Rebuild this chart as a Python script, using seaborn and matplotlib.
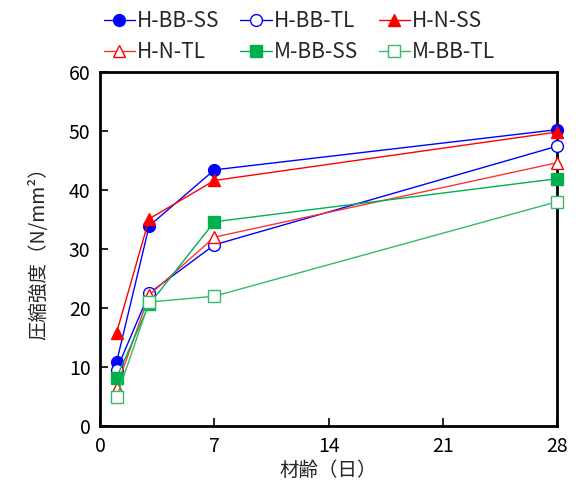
import matplotlib
matplotlib.use("Agg")
import matplotlib.pyplot as plt
import seaborn as sns
import pandas as pd

days = [1, 3, 7, 28]
h_bb_ss = [10.8, 33.9, 43.4, 50.2]
h_bb_tl = [9.5, 22.5, 30.7, 47.4]
h_n_ss = [15.8, 35.1, 41.6, 49.8]
h_n_tl = [6.5, 22.2, 32.0, 44.6]
m_bb_ss = [8.2, 20.6, 34.6, 41.9]
m_bb_tl = [4.9, 21.0, 22.0, 38.0]

series = ["H-BB-SS", "H-BB-TL", "H-N-SS", "H-N-TL", "M-BB-SS", "M-BB-TL"]
values = [h_bb_ss, h_bb_tl, h_n_ss, h_n_tl, m_bb_ss, m_bb_tl]

sns.set_style("ticks")
plt.rcParams['font.family'] = ['Noto Sans CJK JP', 'DejaVu Sans']

styles = {
    "H-BB-SS": dict(color="#0000FF", marker="o", mfc="#0000FF", mec="#0000FF"),
    "H-BB-TL": dict(color="#0000FF", marker="o", mfc="white", mec="#0000FF"),
    "H-N-SS": dict(color="#FF0000", marker="^", mfc="#FF0000", mec="#FF0000"),
    "H-N-TL": dict(color="#FF3333", marker="^", mfc="white", mec="#FF0000"),
    "M-BB-SS": dict(color="#00B050", marker="s", mfc="#00B050", mec="#00B050"),
    "M-BB-TL": dict(color="#33BB66", marker="s", mfc="white", mec="#33BB66"),
}

fig = plt.figure(figsize=(5.76, 4.92), dpi=100)
ax = fig.add_axes([0.174, 0.134, 0.793, 0.720])

for name, vals in zip(series, values):
    df = pd.DataFrame({"day": days, "val": vals})
    s = styles[name]
    sns.lineplot(data=df, x="day", y="val", ax=ax, color=s["color"], marker=s["marker"],
                 markerfacecolor=s["mfc"], markeredgecolor=s["mec"], markeredgewidth=1.0,
                 markersize=8.5 if s["marker"] != "^" else 9, linewidth=1.0, label=name,
                 clip_on=False, zorder=3)

ax.set_xlim(0, 28)
ax.set_ylim(0, 60)
ax.set_xticks([0, 7, 14, 21, 28])
ax.set_yticks(range(0, 61, 10))
ax.tick_params(direction="in", length=6, width=1.2, labelsize=14, colors="black", pad=7)
for sp in ax.spines.values():
    sp.set_visible(True)
    sp.set_linewidth(2)
    sp.set_color("black")
    sp.set_zorder(2)
ax.set_xlabel("材齢（日）", fontsize=14, labelpad=2)
ax.set_ylabel("圧縮強度（N/mm²）", fontsize=14, labelpad=14)

h, l = ax.get_legend_handles_labels()
order = [0, 3, 1, 4, 2, 5]
ax.legend([h[i] for i in order], [l[i] for i in order],
          loc="lower center", bbox_to_anchor=(0.436, 1.0), ncol=3, frameon=False,
          fontsize=15, handlelength=1.5, handletextpad=0.1, columnspacing=1.0,
          labelspacing=0.45, borderaxespad=0.0)

fig.savefig("out.png", dpi=100)
